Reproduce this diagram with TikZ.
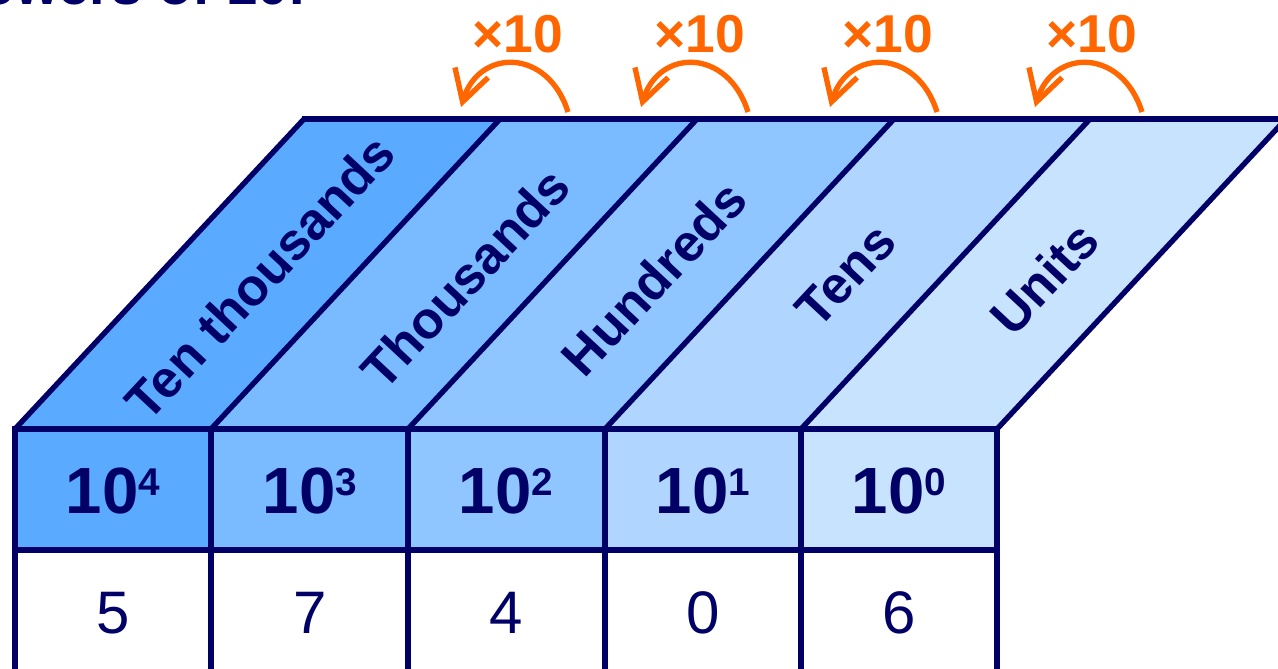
\documentclass[tikz,border=0pt]{standalone}
\usepackage{fontspec}
\setmainfont{Liberation Sans}
\usetikzlibrary{arrows.meta}
\definecolor{navy}{HTML}{000066}
\definecolor{orng}{HTML}{FF6600}
\definecolor{cA}{HTML}{5AABFF}
\definecolor{cB}{HTML}{7ABBFF}
\definecolor{cC}{HTML}{90C6FF}
\definecolor{cD}{HTML}{B0D5FE}
\definecolor{cE}{HTML}{C8E3FE}
\tikzset{
  edge/.style={draw=navy, line width=4pt, line join=miter},
  slab/.style={font=\fontsize{39}{42}\selectfont\bfseries, text=navy, rotate=47, inner sep=0pt},
  pow/.style={font=\fontsize{49}{52}\selectfont\bfseries, text=navy, inner sep=0pt},
  digit/.style={font=\fontsize{45}{48}\selectfont, text=navy, inner sep=0pt},
  times/.style={font=\fontsize{40}{44}\selectfont\bfseries, text=orng, inner sep=0pt},
  arc/.style={draw=orng, line width=4pt, -{Straight Barb[length=23pt,width=26pt,line width=4pt]}},
}
\newcommand{\supr}[1]{\raisebox{0.27em}{\fontsize{29}{29}\selectfont #1}}
\begin{document}
\begin{tikzpicture}[x=0.75pt,y=-0.75pt]
\useasboundingbox (0,0) rectangle (1278,668);
\clip (0,0) rectangle (1278,668);
% title (cut off at the top)
\node[anchor=base east, inner sep=0pt, font=\fontsize{42}{46}\selectfont\bfseries, text=navy] (title) at (305,4) {Powers of 10.};
% slanted top faces
\foreach \xa/\xb/\c in {15/211/cA, 211/408/cB, 408/605/cC, 605/801/cD, 801/997/cE}{
  \path[fill=\c] (\xa,429) -- (\xb,429) -- (\xb+289,119) -- (\xa+289,119) -- cycle;
}
\foreach \xa in {15,211,408,605,801,997}{
  \draw[edge] (\xa,429) -- (\xa+289,119);
}
\draw[navy, line width=4.5pt] (302,119) -- (1290,119);
% labels on slabs
\node[slab] (l1) at (260,277) {Ten thousands};
\node[slab] (l2) at (465,278) {Thousands};
\node[slab] (l3) at (654,278) {Hundreds};
\node[slab] (l4) at (846,275) {Tens};
\node[slab] (l5) at (1044,278) {Units};
% table cells
\foreach \xa/\xb/\c in {15/211/cA, 211/408/cB, 408/605/cC, 605/801/cD, 801/997/cE}{
  \path[edge, fill=\c] (\xa,429) rectangle (\xb,550);
  \path[edge, fill=white] (\xa,550) rectangle (\xb,720);
}
\node[pow] (p4) at (113,491) {10\supr{4}};
\node[pow] (p3) at (310,491) {10\supr{3}};
\node[pow] (p2) at (506,491) {10\supr{2}};
\node[pow] (p1) at (703,491) {10\supr{1}};
\node[pow] (p0) at (899,491) {10\supr{0}};
\node[digit] (d4) at (113,613) {5};
\node[digit] (d3) at (310,613) {7};
\node[digit] (d2) at (506,613) {4};
\node[digit] (d1) at (703,613) {0};
\node[digit] (d0) at (899,613) {6};
% x10 arrows
\foreach \s/\t/\n in {568/518/a, 748/700/b, 937/888/c, 1142/1092/d}{
  \node[times] (t\n) at (\t,34) {×10};
  \coordinate (s\n) at (\s,112);
  \coordinate (e\n) at (\s-107,107);
  \draw[arc] (s\n) .. controls (\s-20,48) and (\s-89,48) .. (e\n);
}
\end{tikzpicture}
\end{document}
